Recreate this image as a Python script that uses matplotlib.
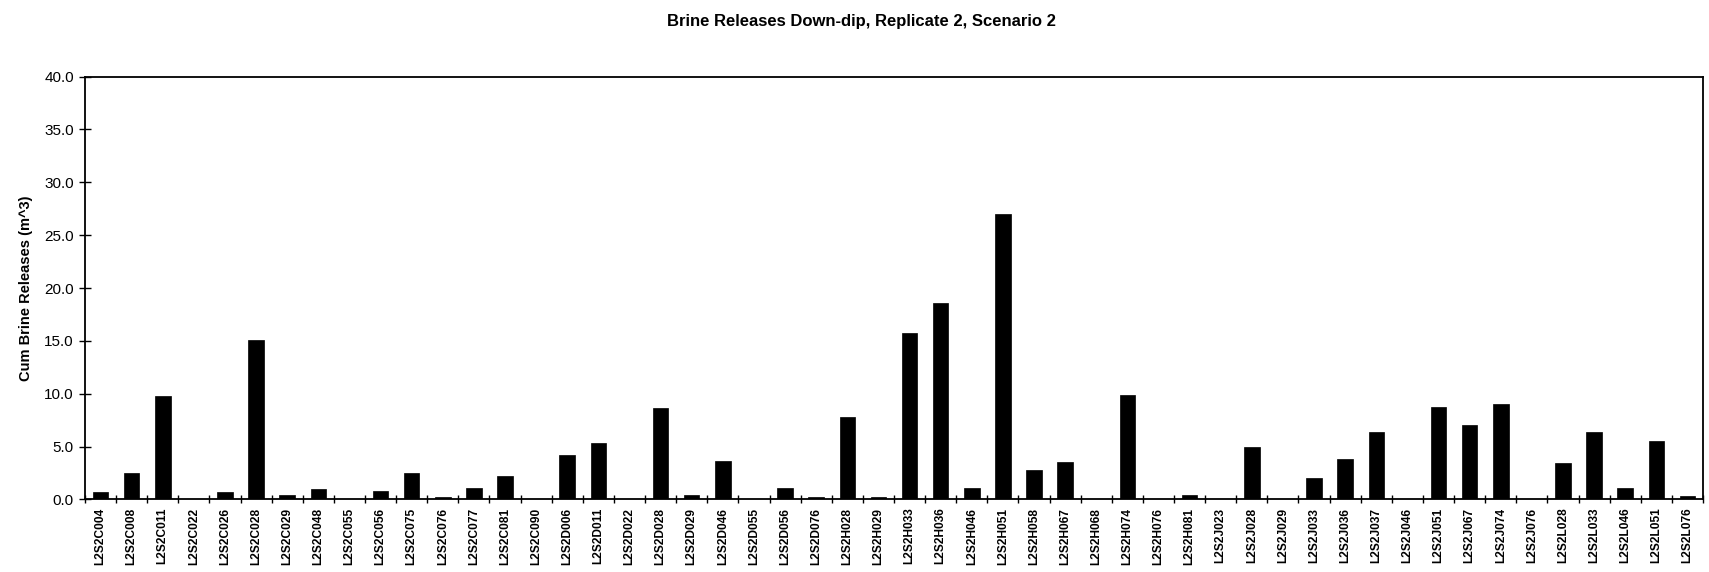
#!/usr/bin/env python3
# Brine releases down-dip, replicate 2, scenario 2 (bar chart)

import numpy as np
import matplotlib
matplotlib.use("Agg")
import matplotlib.pyplot as plt

plt.rcParams['font.family'] = ['Liberation Sans', 'DejaVu Sans']

# ---- data ----
vectors = [
    "L2S2C004", "L2S2C008", "L2S2C011", "L2S2C022", "L2S2C026", "L2S2C028",
    "L2S2C029", "L2S2C048", "L2S2C055", "L2S2C056", "L2S2C075", "L2S2C076",
    "L2S2C077", "L2S2C081", "L2S2C090",
    "L2S2D006", "L2S2D011", "L2S2D022", "L2S2D028", "L2S2D029", "L2S2D046",
    "L2S2D055", "L2S2D056", "L2S2D076",
    "L2S2H028", "L2S2H029", "L2S2H033", "L2S2H036", "L2S2H046", "L2S2H051",
    "L2S2H058", "L2S2H067", "L2S2H068", "L2S2H074", "L2S2H076", "L2S2H081",
    "L2S2J023", "L2S2J028", "L2S2J029", "L2S2J033", "L2S2J036", "L2S2J037",
    "L2S2J046", "L2S2J051", "L2S2J067", "L2S2J074", "L2S2J076",
    "L2S2L028", "L2S2L033", "L2S2L046", "L2S2L051", "L2S2L076",
]
releases = [
    0.69, 2.5, 9.76, 0.02, 0.69, 15.1,
    0.44, 0.97, 0.02, 0.78, 2.5, 0.25,
    1.04, 2.23, 0.02,
    4.2, 5.3, 0.02, 8.6, 0.4, 3.65,
    0.02, 1.1, 0.25,
    7.8, 0.2, 15.7, 18.6, 1.04, 26.97,
    2.77, 3.5, 0.05, 9.86, 0.02, 0.44,
    0.02, 4.97, 0.02, 2.0, 3.8, 6.4,
    0.02, 8.75, 7.0, 9.0, 0.02,
    3.4, 6.4, 1.04, 5.5, 0.34,
]
y_ticks = [0, 5, 10, 15, 20, 25, 30, 35, 40]

# ---- figure ----
fig = plt.figure(figsize=(17.09, 5.72), dpi=100)
ax = fig.add_axes([0.0497, 0.127, 0.9468, 0.739])

x = np.arange(len(vectors))
ax.bar(x, releases, width=0.5, color='black', edgecolor='black', linewidth=0.5)

ax.set_xlim(-0.5, len(vectors) - 0.5)
ax.set_ylim(0, 40)
ax.set_yticks(y_ticks)
ax.set_yticklabels([f"{v:.1f}" for v in y_ticks], fontsize=11)

ax.set_xticks(x)
ax.set_xticklabels(vectors, rotation=90, fontsize=8.6, fontweight='bold')
ax.tick_params(axis='x', which='major', length=0, pad=6)
ax.set_xticks(np.arange(-0.5, len(vectors)), minor=True)
ax.tick_params(axis='x', which='minor', direction='inout', length=6, width=1)
ax.tick_params(axis='y', direction='inout', length=8, width=1, pad=4)

for s in ax.spines.values():
    s.set_linewidth(1.3)
    s.set_color('black')

ax.set_ylabel("Cum Brine Releases (m^3)", fontsize=10.5, fontweight='bold', labelpad=8)
fig.text(0.504, 0.962, "Brine Releases Down-dip, Replicate 2, Scenario 2",
         ha='center', va='center', fontsize=12, fontweight='bold')

fig.savefig("out.png", dpi=100)
